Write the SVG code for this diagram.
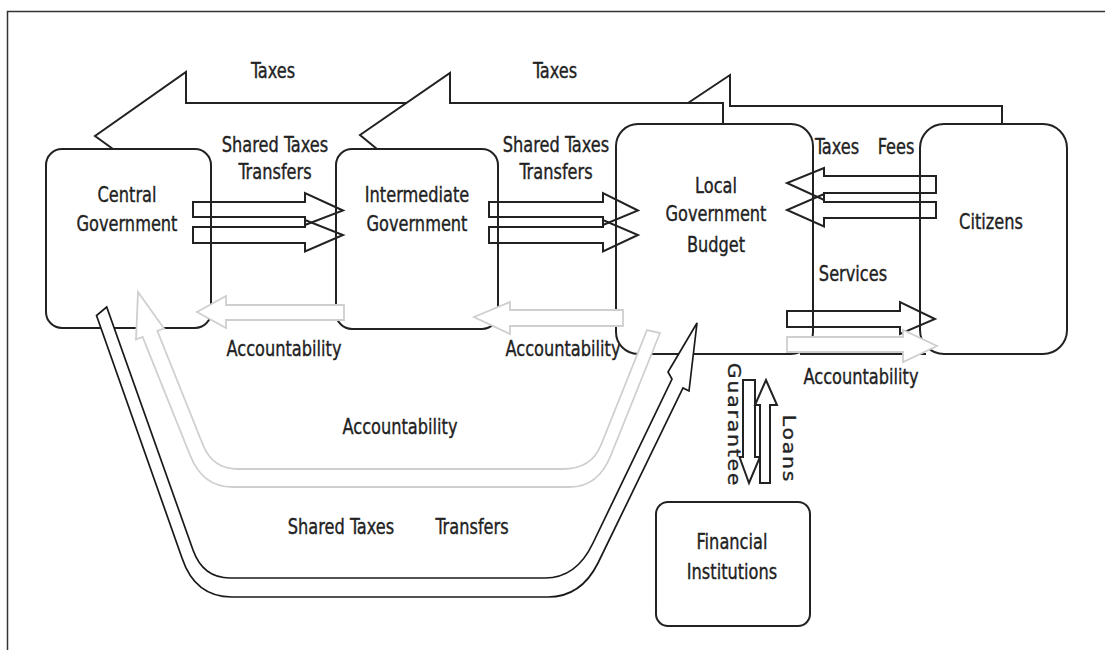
<svg xmlns="http://www.w3.org/2000/svg" width="1105" height="650" viewBox="0 0 1105 650">
<defs>
<style>
.frame{fill:none;stroke:#333;stroke-width:1.5}
.box{fill:#fff;stroke:#222;stroke-width:2}
.ln{fill:none;stroke:#222;stroke-width:2;stroke-linejoin:miter}
.ar{fill:none;stroke:#222;stroke-width:2;stroke-linejoin:miter}
.arw{fill:#fff;stroke:#222;stroke-width:2;stroke-linejoin:miter}
.band{fill:#fff;stroke:#1a1a1a;stroke-width:1.7;stroke-linejoin:miter}
.gband{fill:#fff;stroke:#cfcfcf;stroke-width:1.8;stroke-linejoin:miter}
.t{font-family:"DejaVu Sans Condensed","DejaVu Sans",sans-serif;font-stretch:condensed;font-size:18px;fill:#222;stroke:#222;stroke-width:0.3;text-anchor:middle}
.tr{font-family:"DejaVu Sans",sans-serif;font-size:17px;letter-spacing:1.5px;fill:#222;stroke:#222;stroke-width:0.3;text-anchor:middle}
</style>
</defs>
<rect width="1105" height="650" fill="#fff"/>
<path class="frame" d="M7.5 650 V11.5 H1105"/>

<g id="taxes-arrows">
<polyline class="ln" points="113,149 95,136 186,72 186,103 407,103"/>
<polyline class="ln" points="688,103 730,75 730,106 1002,106 1002,124"/>
<polyline class="ln" points="377,149 360,135 450,73 450,103 723,103 723,124"/>
</g>

<g id="central"><rect class="box" x="46" y="149" width="165" height="179" rx="16"/></g>
<g id="intermediate"><rect class="box" x="336" y="149" width="162" height="180" rx="16"/></g>
<g id="local"><rect class="box" x="616" y="124" width="197" height="230" rx="22"/></g>
<g id="citizens"><rect class="box" x="920" y="124" width="147" height="230" rx="24"/></g>
<g id="financial"><rect class="box" x="656" y="502" width="154" height="124" rx="12"/></g>

<g id="connectors">
<path class="ln" d="M800 354 H926"/>
<path class="ar" d="M193 202 H305 V193 L343 210.5 L305 225 V217 H193 Z"/>
<path class="ar" d="M193 227 H305 V220 L343 235 L305 251.5 V243 H193 Z"/>
<path class="ar" d="M489 202 H603 V193 L638 210.5 L603 225 V217 H489 Z"/>
<path class="ar" d="M489 227 H603 V220 L638 235 L603 251.5 V243 H489 Z"/>
<path class="ar" d="M936 176 H824 V168 L787 183 L824 200 V193 H936 Z"/>
<path class="ar" d="M936 202 H824 V194 L787 210 L824 226.5 V218 H936 Z"/>
<path class="ar" d="M787 311 H900 V302 L935 319 L900 334 V327 H787 Z"/>
<path class="gband" d="M344 305 H226 V296 L197 312 L226 328 V320 H344 Z"/>
<path class="gband" d="M623 310 H510 V302 L474 317 L510 334 V326 H623 Z"/>
<path class="gband" d="M787 337 H903 V330 L937 346 L903 362 V352 H787 Z"/>
<path class="gband" d="M138 292 L164 328.5 L157.4 331 L203 445 Q212.6 469 238 469 L563 469 Q591.4 469 601 445 L647 330 L660 333 L611 455 Q598.4 487 570 487 L232 487 Q202.6 487 190 455 L142.6 337 L136 339.5 Z"/>
<path class="band" d="M96.5 315.5 L182 558 Q195 597 232 597 L548 597 Q581 597 598 563 L683 388 L689 391 L697 323 L668 372 L672 379 L593 543 Q576.5 578 545 578 L230 578 Q203 578 193 550 L106.7 307 Z"/>
<path class="arw" d="M743 380 H755 V457 H760 L749 483 L739.5 457 H743 Z"/>
<path class="arw" d="M760 483 V405 H755 L766 380 L777 405 H770 V483 Z"/>
</g>

<g id="labels">
<text class="t" transform="translate(273 77.5) scale(1 1.2)">Taxes</text>
<text class="t" transform="translate(555 77.5) scale(1 1.2)">Taxes</text>
<text class="t" transform="translate(275 152) scale(1 1.2)">Shared Taxes</text>
<text class="t" transform="translate(275 179) scale(1 1.2)">Transfers</text>
<text class="t" transform="translate(556 152) scale(1 1.2)">Shared Taxes</text>
<text class="t" transform="translate(556 179) scale(1 1.2)">Transfers</text>
<text class="t" transform="translate(127 202) scale(1 1.2)">Central</text>
<text class="t" transform="translate(127 231) scale(1 1.2)">Government</text>
<text class="t" transform="translate(417 202) scale(1 1.2)">Intermediate</text>
<text class="t" transform="translate(417 231) scale(1 1.2)">Government</text>
<text class="t" transform="translate(716 192.5) scale(1 1.2)">Local</text>
<text class="t" transform="translate(716 221) scale(1 1.2)">Government</text>
<text class="t" transform="translate(716 252) scale(1 1.2)">Budget</text>
<text class="t" transform="translate(991 229) scale(1 1.2)">Citizens</text>
<text class="t" transform="translate(837 154) scale(1 1.2)">Taxes</text>
<text class="t" transform="translate(896 154) scale(1 1.2)">Fees</text>
<text class="t" transform="translate(853 281) scale(1 1.2)">Services</text>
<text class="t" transform="translate(861 384) scale(1 1.2)">Accountability</text>
<text class="t" transform="translate(284 356) scale(1 1.2)">Accountability</text>
<text class="t" transform="translate(563 356) scale(1 1.2)">Accountability</text>
<text class="t" transform="translate(400 434) scale(1 1.2)">Accountability</text>
<text class="t" transform="translate(341 534) scale(1 1.2)">Shared Taxes</text>
<text class="t" transform="translate(472 534) scale(1 1.2)">Transfers</text>
<text class="t" transform="translate(732 549) scale(1 1.2)">Financial</text>
<text class="t" transform="translate(732 579) scale(1 1.2)">Institutions</text>
<text class="tr" transform="translate(728 425) rotate(90) scale(1.2 1)">Guarantee</text>
<text class="tr" transform="translate(783 449) rotate(90) scale(1.2 1)">Loans</text>
</g>
</svg>
